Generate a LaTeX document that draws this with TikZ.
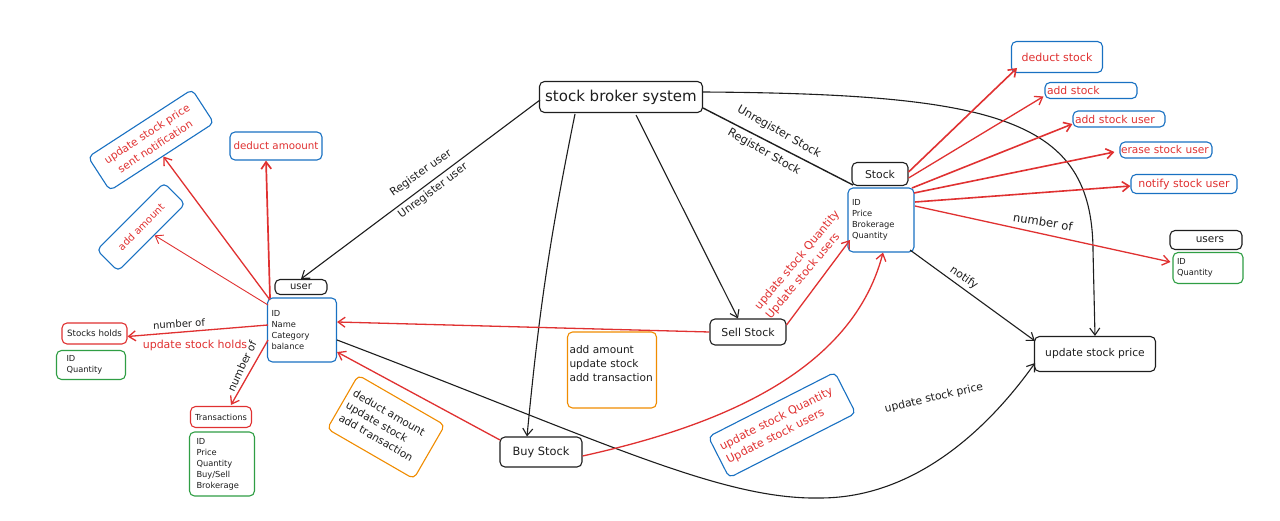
\documentclass[tikz,border=0pt]{standalone}
\usepackage{fontspec}
\setmainfont{DejaVu Sans}
\usetikzlibrary{arrows.meta,calc}
\definecolor{ink}{HTML}{1E1E1E}
\definecolor{xred}{HTML}{E03131}
\definecolor{xblue}{HTML}{1971C2}
\definecolor{xgreen}{HTML}{2F9E44}
\definecolor{xorange}{HTML}{F08C00}
\begin{document}
\begin{tikzpicture}[x=1pt,y=-1pt,
  box/.style={draw, rounded corners=5pt, line width=1.1pt, inner sep=2pt, align=center, text=ink},
  bbox/.style={box, draw=ink},
  ubox/.style={box, draw=xblue},
  rbox/.style={box, draw=xred},
  gbox/.style={box, draw=xgreen},
  obox/.style={box, draw=xorange},
  sz/.style 2 args={minimum width=#1pt, minimum height=#2pt},
  body/.style={font=\fontsize{8.3}{11}\selectfont},
  lbl/.style={text=ink, inner sep=0pt},
  arr/.style={-{Straight Barb[length=7pt,width=10pt]}},
  bline/.style={draw=ink, line width=1.1pt},
  rline/.style={draw=xred, line width=1.3pt},
]
\useasboundingbox[fill=white] (0,0) rectangle (1280,521);

% ---- nodes ----
\node[bbox, sz={163}{31}, font=\fontsize{15}{18}\selectfont] (sys) at (621,97) {stock broker system};

\node[bbox, sz={52}{15}, inner sep=0.5pt, font=\fontsize{10}{11}\selectfont] (userl) at (301,287) {user};
\node[ubox, sz={69}{64}, text width=61pt, inner xsep=4pt, align=left, body] (userb) at (302,330) {ID\\Name\\Category\\balance};

\node[rbox, sz={65}{21}, inner sep=1pt, font=\fontsize{8.7}{10}\selectfont] (holds) at (94.5,333.5) {Stocks holds};
\node[gbox, sz={69}{29}, text width=49pt, inner xsep=10pt, align=left, font=\fontsize{8.3}{11}\selectfont] (holdsb) at (91,365) {ID\\Quantity};

\node[rbox, sz={61}{21}, inner sep=1pt, font=\fontsize{8.3}{9}\selectfont] (trans) at (221,417) {Transactions};
\node[gbox, sz={65}{64}, text width=51pt, inner xsep=7pt, align=left, body] (transb) at (222,464) {ID\\Price\\Quantity\\Buy/Sell\\Brokerage};

\node[ubox, rotate=33, sz={124}{40}, text=xred, font=\fontsize{10.7}{15}\selectfont] (usp) at (151,140) {update stock price\\sent notification};
\node[ubox, sz={92}{28}, text=xred, font=\fontsize{10.3}{12}\selectfont] (dam) at (276,146) {deduct amoount};
\node[ubox, rotate=45, sz={95}{30}, text=xred, font=\fontsize{10}{12}\selectfont] (aam) at (141,227) {add amount};

\node[obox, rotate=-30, sz={100}{62}, text width=90pt, inner xsep=5pt, align=left, font=\fontsize{10.6}{14}\selectfont] (org1) at (386,427) {deduct amount\\update stock\\add transaction};
\node[obox, sz={89}{76}, text width=85pt, inner xsep=2pt, align=left, font=\fontsize{10.6}{14}\selectfont] (org2) at (612,370) {add amount\\update stock\\add transaction\\\mbox{}};

\node[bbox, sz={82}{30}, font=\fontsize{11.4}{13}\selectfont] (buy) at (541,452) {Buy Stock};
\node[bbox, sz={76}{26}, font=\fontsize{10.9}{12}\selectfont] (sell) at (748,332) {Sell Stock};
\node[bbox, sz={121}{35}, font=\fontsize{10.7}{12}\selectfont] (price) at (1095,354) {update stock price};

\node[ubox, rotate=27, sz={142}{46}, text width=130pt, inner xsep=6pt, align=left, text=xred, font=\fontsize{11.2}{15}\selectfont] (usq) at (782,425) {update stock Quantity\\Update stock users};

\node[bbox, sz={56}{23}, font=\fontsize{10.8}{12}\selectfont] (stockl) at (880,174) {Stock};
\node[ubox, sz={66}{64}, text width=58pt, inner xsep=4pt, align=left, body] (stockb) at (881,220) {ID\\Price\\Brokerage\\Quantity};

\node[ubox, sz={91}{31}, text=xred, font=\fontsize{11}{12}\selectfont] (dst) at (1057,57) {deduct stock};
\node[ubox, sz={92}{16}, inner sep=0.5pt, text width=88pt, inner xsep=2pt, align=left, text=xred, font=\fontsize{10.8}{11}\selectfont] (ast) at (1091,90.5) {add stock};
\node[ubox, sz={92}{16}, inner sep=0.5pt, text width=88pt, inner xsep=2pt, align=left, text=xred, font=\fontsize{10.8}{11}\selectfont] (asu) at (1119,119) {add stock user};
\node[ubox, sz={92}{16}, inner sep=0.5pt, text width=90pt, inner xsep=1pt, align=left, text=xred, font=\fontsize{10.6}{11}\selectfont] (esu) at (1166,150) {erase stock user};
\node[ubox, sz={106}{19}, inner sep=0.5pt, text=xred, font=\fontsize{11}{12}\selectfont] (nsu) at (1184,184) {notify stock user};

\node[bbox, sz={72}{19}, inner sep=0.5pt, font=\fontsize{10.5}{11}\selectfont] (users) at (1206,240) {\hspace*{8pt}users};
\node[gbox, sz={70}{31}, text width=62pt, inner xsep=4pt, align=left, font=\fontsize{8.3}{11}\selectfont] (usersb) at (1208,268) {ID\\Quantity};

% ---- connectors ----
\draw[bline, arr] ($(sys.center)+(-81,3)$) -- (userl.north);
\draw[bline, arr] ($(sys.center)+(-46,17)$) to[bend right=3] ($(buy.north)+(-14,0)$);
\draw[bline, arr] ($(sys.center)+(15,18)$) -- ($(sell.north)+(-10,0)$);
\draw[bline, arr] ($(sys.east)+(0,-5)$) .. controls (1000,94) and (1092,120) .. (1093,250) -- (price.north);
\draw[bline, line width=1.4pt] ($(sys.center)+(82,11)$) -- ($(stockl.center)+(-27,11)$);

\draw[rline, arr] ($(userb.center)+(-32,-30)$) -- (usp);
\draw[rline, arr, line width=1.7pt] ($(userb.center)+(-32,-32)$) -- ($(dam.south)+(-10,0)$);
\draw[rline, arr, line width=0.9pt] ($(userb.center)+(-34,-25)$) -- (aam);
\draw[rline, arr] ($(userb.center)+(-34,-5)$) -- ($(holds.east)+(0,3)$);
\draw[rline, arr] ($(userb.center)+(-34,10)$) -- ($(trans.north)+(10,-1)$);

\draw[rline, arr] (sell.west) -- ($(userb.east)+(0,-8)$);
\draw[rline, arr] ($(buy.center)+(-41,-12)$) -- ($(userb.east)+(0,22)$);
\draw[bline, arr] ($(userb.east)+(0,10)$) .. controls (600,440) and (720,500) .. (820,498) .. controls (930,498) and (1005,405) .. ($(price.center)+(-60,9)$);

\draw[rline, arr] ($(buy.east)+(0,4)$) .. controls (700,430) and (850,380) .. ($(stockb.south)+(2,0)$);
\draw[rline, arr] ($(sell.east)+(0,-7)$) -- ($(stockb.center)+(-31,20)$);
\draw[bline, arr] ($(stockb.center)+(29,30)$) -- ($(price.north west)+(1,5)$);

\draw[rline, arr, line width=1.6pt] ($(stockl.east)+(0,-2)$) -- ($(dst.center)+(-40,11)$);
\draw[rline, arr] ($(stockl.east)+(0,4)$) -- ($(ast.west)+(-1,6)$);
\draw[rline, arr, line width=1.6pt] ($(stockb.center)+(31,-32)$) -- ($(asu.west)+(0,5)$);
\draw[rline, arr, line width=1.6pt] ($(stockb.center)+(33,-27)$) -- ($(esu.west)+(-5,2)$);
\draw[rline, arr, line width=1.6pt] ($(stockb.center)+(34,-18)$) -- ($(nsu.west)+(0,2)$);
\draw[rline, arr] ($(stockb.center)+(34,-14)$) -- ($(usersb.west)+(-2,-6)$);

% ---- connector labels ----
\node[lbl, rotate=35, font=\fontsize{10.9}{12}\selectfont] (lru) at (421,173) {Register user};
\node[lbl, rotate=37, font=\fontsize{10.8}{12}\selectfont] (luu) at (433,191) {Unregister user};
\node[lbl, rotate=-29.5, font=\fontsize{11.3}{12}\selectfont] (lus) at (779,132) {Unregister Stock};
\node[lbl, rotate=-29.5, font=\fontsize{11.3}{12}\selectfont] (lrs) at (764,152) {Register Stock};
\node[lbl, rotate=3, font=\fontsize{10}{12}\selectfont] (lno1) at (179,324) {number of};
\node[lbl, text=xred, font=\fontsize{11}{12}\selectfont] (lush) at (195,345) {update stock holds};
\node[lbl, rotate=65, font=\fontsize{10.5}{12}\selectfont] (lno2) at (242,366) {number of};
\node[lbl, rotate=50, align=left, text=xred, font=\fontsize{11.2}{14.5}\selectfont] (lusq) at (803,265) {update stock Quantity\\Update stock users};
\node[lbl, rotate=-35, font=\fontsize{11}{12}\selectfont] (lnot) at (964,278) {notify};
\node[lbl, rotate=-9, font=\fontsize{11.6}{12}\selectfont] (lno3) at (1043,222) {number of};
\node[lbl, rotate=13, font=\fontsize{10.8}{12}\selectfont] (lusp) at (934,398) {update stock price};
\end{tikzpicture}
\end{document}
